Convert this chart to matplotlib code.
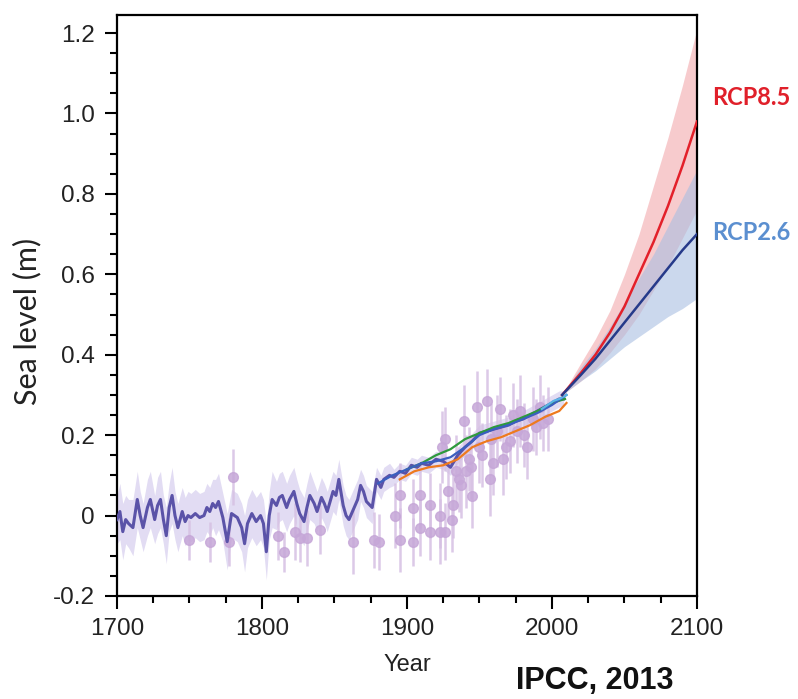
import matplotlib.pyplot as plt
from matplotlib.ticker import MultipleLocator

# reconstruction (1700-2008), purple line + uncertainty band
recon_years = [1700, 1702, 1704, 1706, 1708, 1711, 1714, 1716, 1718, 1721, 1723, 1726, 1728, 1730,
               1732, 1734, 1736, 1738, 1740, 1742, 1745, 1747, 1749, 1751, 1754, 1757, 1760, 1762,
               1764, 1766, 1768, 1770, 1773, 1776, 1779, 1781, 1783, 1786, 1788, 1790, 1793, 1796,
               1799, 1801, 1803, 1805, 1807, 1810, 1812, 1814, 1817, 1819, 1822, 1824, 1826, 1829,
               1831, 1833, 1836, 1838, 1841, 1843, 1845, 1847, 1849, 1851, 1853, 1856, 1858, 1860,
               1863, 1866, 1868, 1870, 1872, 1876, 1879, 1882, 1884, 1888, 1891, 1895, 1899, 1903,
               1907, 1910, 1915, 1920, 1925, 1930, 1935, 1940, 1945, 1950, 1955, 1960, 1965, 1970,
               1975, 1980, 1985, 1990, 1995, 2000, 2005, 2008]
recon = [-0.01, 0.01, -0.04, -0.01, -0.02, -0.03, 0.04, 0.0, -0.03, 0.02, 0.04, -0.01, 0.025, 0.04,
         -0.01, -0.05, 0.02, 0.05, 0.0, -0.03, 0.01, -0.015, 0.0, -0.005, 0.005, -0.005, 0.0, 0.02,
         0.01, 0.03, 0.02, 0.035, -0.005, -0.065, 0.005, 0.0, -0.005, -0.03, -0.07, -0.02, 0.005, -0.015,
         0.0, -0.02, -0.09, 0.0, 0.04, 0.025, 0.045, 0.05, 0.02, 0.04, 0.06, 0.03, 0.005, -0.015,
         0.02, 0.05, 0.03, 0.01, 0.045, 0.03, 0.01, 0.035, 0.06, 0.05, 0.09, 0.025, 0.0, -0.01,
         0.015, 0.04, 0.075, 0.06, 0.035, 0.02, 0.09, 0.07, 0.09, 0.10, 0.095, 0.11, 0.105, 0.125,
         0.12, 0.13, 0.125, 0.14, 0.135, 0.12, 0.15, 0.17, 0.185, 0.205, 0.21, 0.215, 0.22, 0.225,
         0.235, 0.24, 0.25, 0.26, 0.27, 0.28, 0.29, 0.29]
recon_unc = [0.06, 0.07, 0.07, 0.06, 0.06, 0.07, 0.07, 0.06, 0.06, 0.07, 0.07, 0.06, 0.07, 0.07,
             0.06, 0.07, 0.06, 0.07, 0.06, 0.06, 0.06, 0.06, 0.06, 0.06, 0.06, 0.06, 0.06, 0.06,
             0.06, 0.06, 0.07, 0.07, 0.06, 0.07, 0.06, 0.06, 0.06, 0.06, 0.07, 0.06, 0.06, 0.06,
             0.06, 0.06, 0.07, 0.06, 0.07, 0.06, 0.06, 0.06, 0.06, 0.06, 0.06, 0.06, 0.06, 0.06,
             0.06, 0.06, 0.05, 0.05, 0.05, 0.05, 0.05, 0.05, 0.05, 0.05, 0.05, 0.05, 0.05, 0.05,
             0.05, 0.05, 0.04, 0.04, 0.04, 0.04, 0.03, 0.03, 0.03, 0.03, 0.02, 0.02, 0.02, 0.02,
             0.02, 0.02, 0.02, 0.02, 0.02, 0.02, 0.02, 0.02, 0.02, 0.02, 0.02, 0.02, 0.02, 0.02,
             0.02, 0.02, 0.02, 0.02, 0.02, 0.02, 0.02, 0.02]

# tide gauge records
blue_years = [1880, 1890, 1900, 1910, 1920, 1930, 1940, 1950, 1960, 1970, 1980, 1990, 2000, 2010]
blue_vals = [0.08, 0.10, 0.115, 0.13, 0.135, 0.145, 0.17, 0.20, 0.215, 0.225, 0.24, 0.255, 0.275, 0.30]
green_years = [1900, 1910, 1920, 1930, 1940, 1950, 1960, 1970, 1980, 1990, 2000, 2009]
green_vals = [0.115, 0.13, 0.15, 0.165, 0.19, 0.205, 0.22, 0.23, 0.245, 0.26, 0.28, 0.29]
orange_years = [1895, 1905, 1915, 1925, 1935, 1945, 1955, 1965, 1975, 1985, 1995, 2005, 2010]
orange_vals = [0.09, 0.11, 0.12, 0.125, 0.14, 0.17, 0.185, 0.195, 0.21, 0.225, 0.245, 0.26, 0.28]
alti_years = [1993, 1997, 2001, 2005, 2010]
alti_vals = [0.265, 0.275, 0.285, 0.29, 0.30]

# salt-marsh / proxy points
pts_years = [1750, 1764, 1777, 1780, 1811, 1815, 1823, 1826, 1831, 1840, 1863, 1877, 1881, 1892,
             1895, 1895, 1904, 1904, 1909, 1909, 1916, 1916, 1923, 1923, 1924, 1926, 1926, 1931,
             1932, 1934, 1937, 1939, 1941, 1943, 1945, 1948, 1950, 1955, 1957, 1959, 1962, 1964,
             1966, 1971, 1973, 1978, 1983, 1987, 1992, 1997, 1928, 1936, 1944, 1952, 1958, 1968,
             1976, 1981, 1989, 1994]
pts_vals = [-0.06, -0.065, -0.065, 0.095, -0.05, -0.09, -0.04, -0.055, -0.055, -0.035, -0.065, -0.06,
            -0.065, 0.0, 0.05, -0.06, 0.02, -0.065, 0.05, -0.03, 0.025, -0.04, 0.0, -0.04, 0.17,
            0.19, -0.04, -0.01, 0.025, 0.11, 0.075, 0.235, 0.11, 0.14, 0.048, 0.27, 0.17, 0.285,
            0.09, 0.13, 0.21, 0.265, 0.14, 0.185, 0.25, 0.26, 0.17, 0.24, 0.27, 0.24, 0.06, 0.09,
            0.12, 0.15, 0.19, 0.17, 0.21, 0.2, 0.22, 0.23]
pts_err = [0.05, 0.05, 0.06, 0.07, 0.06, 0.05, 0.07, 0.06, 0.07, 0.06, 0.08, 0.07, 0.07, 0.08,
           0.08, 0.08, 0.07, 0.06, 0.08, 0.07, 0.08, 0.07, 0.08, 0.08, 0.09, 0.08, 0.07, 0.08,
           0.08, 0.09, 0.08, 0.09, 0.09, 0.08, 0.08, 0.09, 0.09, 0.08, 0.09, 0.08, 0.09, 0.08,
           0.09, 0.08, 0.08, 0.09, 0.08, 0.08, 0.08, 0.08, 0.07, 0.08, 0.08, 0.08, 0.09, 0.08,
           0.08, 0.08, 0.07, 0.07]

# projections
proj_years = [2007, 2020, 2030, 2040, 2050, 2060, 2070, 2080, 2090, 2100]
rcp85 = [0.30, 0.355, 0.40, 0.455, 0.52, 0.60, 0.68, 0.77, 0.87, 0.98]
rcp85_lo = [0.30, 0.335, 0.365, 0.405, 0.45, 0.50, 0.56, 0.62, 0.69, 0.76]
rcp85_hi = [0.30, 0.38, 0.44, 0.51, 0.60, 0.70, 0.82, 0.94, 1.07, 1.21]
rcp26 = [0.30, 0.35, 0.39, 0.435, 0.48, 0.525, 0.57, 0.615, 0.66, 0.70]
rcp26_lo = [0.30, 0.335, 0.36, 0.39, 0.42, 0.445, 0.47, 0.495, 0.515, 0.54]
rcp26_hi = [0.30, 0.37, 0.415, 0.47, 0.53, 0.59, 0.65, 0.72, 0.79, 0.86]

fig = plt.figure(figsize=(7.98, 6.99), dpi=100)
ax = fig.add_axes([0.1466, 0.1474, 0.7268, 0.8312])

recon_lo = [v - u for v, u in zip(recon, recon_unc)]
recon_hi = [v + u for v, u in zip(recon, recon_unc)]
ax.fill_between(recon_years, recon_lo, recon_hi, color="#e2dcf3", lw=0, zorder=1)

ax.errorbar(pts_years, pts_vals, yerr=pts_err, fmt="o", ms=7, color="#c6a7d8",
            ecolor="#d6c0e3", elinewidth=1.8, alpha=0.85, zorder=2)

ax.fill_between(proj_years, rcp85_lo, rcp85_hi, color="#f2a9ad", alpha=0.6, lw=0, zorder=2)
ax.fill_between(proj_years, rcp26_lo, rcp26_hi, color="#a9bfe2", alpha=0.6, lw=0, zorder=2)

ax.plot(recon_years, recon, color="#5b53a8", lw=2.2, zorder=4)
ax.plot(green_years, green_vals, color="#2e9a3c", lw=1.6, zorder=4)
ax.plot(orange_years, orange_vals, color="#ee7a1e", lw=1.6, zorder=4)
ax.plot(blue_years, blue_vals, color="#3a5fbf", lw=1.6, zorder=5)
ax.plot(alti_years, alti_vals, color="#5ab4e6", lw=1.6, zorder=5)
ax.plot(proj_years, rcp85, color="#e3202a", lw=1.8, zorder=5)
ax.plot(proj_years, rcp26, color="#263a8a", lw=1.8, zorder=5)

ax.set_xlim(1700, 2100)
ax.set_ylim(-0.2, 1.245)
ax.set_xticks([1700, 1800, 1900, 2000, 2100])
ax.set_yticks([-0.2, 0, 0.2, 0.4, 0.6, 0.8, 1.0, 1.2])
ax.set_yticklabels(["-0.2", "0", "0.2", "0.4", "0.6", "0.8", "1.0", "1.2"])
ax.xaxis.set_minor_locator(MultipleLocator(25))
ax.yaxis.set_minor_locator(MultipleLocator(0.05))
ax.tick_params(which="major", direction="out", length=9, width=1.5, labelsize=17.5, pad=7)
ax.tick_params(which="minor", direction="out", length=5, width=1.5)
for lab in ax.get_xticklabels() + ax.get_yticklabels():
    lab.set_fontfamily("Liberation Sans")
    lab.set_color("#222222")
for s in ax.spines.values():
    s.set_linewidth(1.6)

fig.text(0.034, 0.54, "Sea level (m)", rotation=90, ha="center", va="center",
         fontsize=22, family="Lato", color="#222222")
fig.text(0.51, 0.048, "Year", ha="center", va="center", fontsize=17, family="Liberation Sans",
         color="#222222")
fig.text(0.647, 0.014, "IPCC, 2013", ha="left", va="baseline", fontsize=22,
         fontweight="bold", family="Liberation Sans", color="#111111")
fig.text(0.893, 0.861, "RCP8.5", ha="left", va="center", fontsize=17,
         fontweight="bold", family="Lato", color="#e0202a")
fig.text(0.893, 0.667, "RCP2.6", ha="left", va="center", fontsize=17,
         fontweight="bold", family="Lato", color="#5b8fd0")

plt.savefig("out.png", dpi=100)
